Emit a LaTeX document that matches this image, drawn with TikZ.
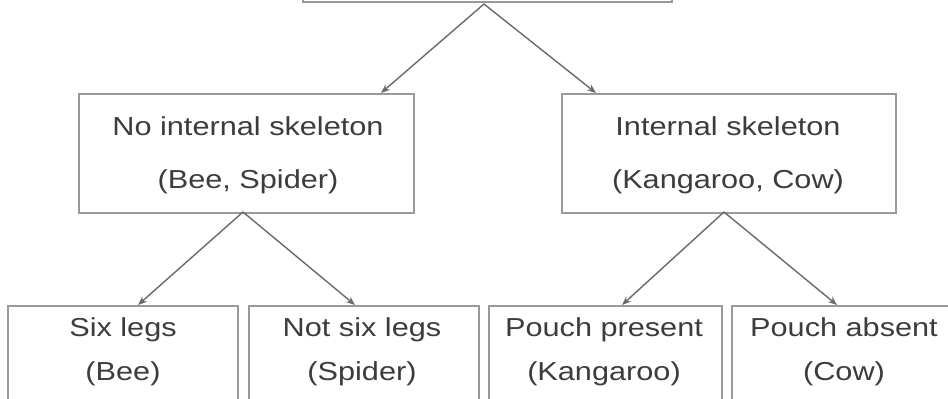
\documentclass[tikz,border=0pt]{standalone}
\usepackage{fontspec}
\setmainfont{Liberation Sans}[FakeStretch=1.18]
\usetikzlibrary{arrows.meta}
\definecolor{boxgray}{HTML}{9A9A9A}
\definecolor{linegray}{HTML}{6A6A6A}
\definecolor{txtgray}{HTML}{3C3C3C}
\tikzset{
  boxnode/.style={draw=boxgray, line width=2pt, inner sep=0pt},
  txt/.style={text=txtgray, font=\fontsize{26}{53}\selectfont, inner sep=0pt, anchor=base},
  arr/.style={draw=linegray, line width=1.4pt, -{Stealth[length=9pt,width=7pt]}}
}
\begin{document}
\begin{tikzpicture}[x=1pt,y=-1pt]
\fill[white] (0,0) rectangle (948,399);
\clip (0,0) rectangle (948,399);
\useasboundingbox (0,0) rectangle (948,399);
% top box (mostly outside the picture)
\node[boxnode, minimum width=369pt, minimum height=80pt, anchor=south] (top) at (487.5,3) {};
\coordinate (apex0) at (484,4);
% middle boxes
\node[boxnode, minimum width=335pt, minimum height=119pt, anchor=north west] (mL) at (78,93) {};
\node[boxnode, minimum width=334pt, minimum height=119pt, anchor=north west] (mR) at (561,93) {};
\node[txt] (mL1) at (248,135) {No internal skeleton};
\node[txt] (mL2) at (248,188) {(Bee, Spider)};
\node[txt] (mR1) at (728,135) {Internal skeleton};
\node[txt] (mR2) at (728,188) {(Kangaroo, Cow)};
% bottom boxes
\node[boxnode, minimum width=230pt, minimum height=120pt, anchor=north west] (b1) at (7,305) {};
\node[boxnode, minimum width=230pt, minimum height=120pt, anchor=north west] (b2) at (248,305) {};
\node[boxnode, minimum width=233pt, minimum height=120pt, anchor=north west] (b3) at (488,305) {};
\node[boxnode, minimum width=230pt, minimum height=120pt, anchor=north west] (b4) at (731,305) {};
\node[txt] (b1a) at (123,336) {Six legs};
\node[txt] (b1b) at (123,380) {(Bee)};
\node[txt] (b2a) at (362,336) {Not six legs};
\node[txt] (b2b) at (362,380) {(Spider)};
\node[txt] (b3a) at (604,336) {Pouch present};
\node[txt] (b3b) at (604,380) {(Kangaroo)};
\node[txt] (b4a) at (844,336) {Pouch absent};
\node[txt] (b4b) at (844,380) {(Cow)};
% arrow endpoints
\coordinate (apexL) at (243,212);
\coordinate (apexR) at (724,212);
\coordinate (tL) at (381,93);
\coordinate (tR) at (596,93);
\coordinate (t1) at (138,305);
\coordinate (t2) at (355,305);
\coordinate (t3) at (622,305);
\coordinate (t4) at (837,305);
\draw[arr] (apex0) -- (tL);
\draw[arr] (apex0) -- (tR);
\draw[arr] (apexL) -- (t1);
\draw[arr] (apexL) -- (t2);
\draw[arr] (apexR) -- (t3);
\draw[arr] (apexR) -- (t4);
\end{tikzpicture}
\end{document}
